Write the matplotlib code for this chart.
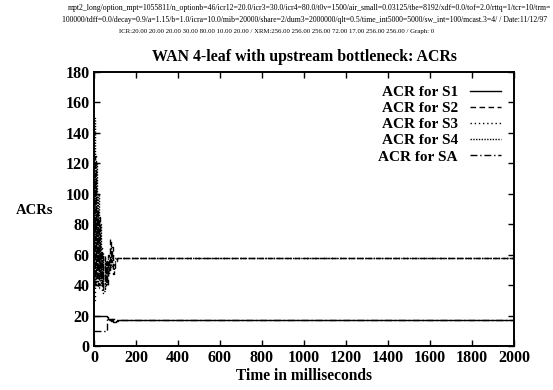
import matplotlib
matplotlib.use("Agg")
import matplotlib.pyplot as plt

# ACR traces (time in ms, rate values)
t_s1 = [0, 55, 60, 65, 70, 75, 80, 85, 90, 95, 100, 105, 112, 2000]
acr_s1 = [20, 20, 19, 18, 17.5, 18, 16.5, 17.5, 16, 15.5, 16, 16.5, 17, 17]

t_s2 = [0, 5, 10, 15, 20, 25, 30, 35, 40, 45, 50, 55, 60, 65, 70, 75, 80, 85,
        90, 95, 100, 105, 110, 120, 2000]
acr_s2 = [40, 125, 45, 90, 40, 85, 45, 62, 38, 60, 42, 55, 40, 60, 50, 70, 55,
          65, 47, 50, 55, 56, 58, 58, 58]

t_s3 = [0, 5, 10, 15, 20, 25, 30, 35, 40, 45, 50, 55, 60, 65, 70, 75, 80, 85,
        90, 95, 100, 110, 2000]
acr_s3 = [30, 110, 40, 85, 38, 80, 40, 65, 35, 58, 38, 56, 45, 58, 48, 65, 52,
          60, 50, 55, 57, 58, 58]

t_s4 = [0, 5, 10, 15, 20, 25, 30, 35, 40, 45, 50, 55, 60, 65, 70, 75, 80, 90,
        2000]
acr_s4 = [150, 40, 120, 50, 100, 45, 80, 40, 62, 36, 55, 40, 52, 48, 56, 52,
          58, 58, 58]

t_sa = [0, 56, 60, 70, 80, 100, 2000]
acr_sa = [10, 10, 18, 17, 17.5, 17, 17]

x_ticks = list(range(0, 2001, 200))
y_ticks = list(range(0, 181, 20))

header_lines = [
    "mpt2_long/option_mpt=1055811/n_optionb=46/icr12=20.0/icr3=30.0/icr4=80.0/t0v=1500/air_small=0.03125/tbe=8192/xdf=0.0/tof=2.0/rttq=1/tcr=10/trm=",
    "100000/tdff=0.0/decay=0.9/a=1.15/b=1.0/icra=10.0/mib=20000/share=2/dum3=2000000/qlt=0.5/time_int5000=5000/sw_int=100/mcast.3=4/ / Date:11/12/97",
    "ICR:20.00 20.00 20.00 30.00 80.00 10.00 20.00 / XRM:256.00 256.00 256.00 72.00 17.00 256.00 256.00 / Graph: 0",
]

plt.rcParams["font.family"] = ["Liberation Serif", "DejaVu Serif"]

W, H = 553, 390
fig = plt.figure(figsize=(W / 100, H / 100), dpi=100)
ax = fig.add_axes([94 / W, 1 - 346 / H, (514 - 94) / W, (346 - 72) / H])

lw = 1.0
ax.plot(t_s1, acr_s1, color="black", lw=lw, drawstyle="steps-post",
        linestyle="-", label="ACR for S1")
ax.plot(t_s2, acr_s2, color="black", lw=lw, drawstyle="steps-post",
        linestyle=(0, (4, 2.5)), label="ACR for S2")
ax.plot(t_s3, acr_s3, color="black", lw=lw, drawstyle="steps-post",
        linestyle=(0, (1, 2)), label="ACR for S3")
ax.plot(t_s4, acr_s4, color="black", lw=lw, drawstyle="steps-post",
        linestyle=(0, (1, 1)), label="ACR for S4")
ax.plot(t_sa, acr_sa, color="black", lw=lw, drawstyle="steps-post",
        linestyle=(0, (5, 2, 1, 2)), label="ACR for SA")

ax.set_xlim(0, 2000)
ax.set_ylim(0, 180)
ax.set_xticks(x_ticks)
ax.set_yticks(y_ticks)
for s in ax.spines.values():
    s.set_linewidth(1.4)
ax.tick_params(direction="in", length=4, width=1.0, top=True, right=True,
               labelsize=11.5, pad=3)
for lab in ax.get_xticklabels() + ax.get_yticklabels():
    lab.set_fontweight("bold")

ax.set_xlabel("Time in milliseconds", fontsize=11.2, fontweight="bold",
              labelpad=1)
fig.text(35 / W, 1 - 210 / H, "ACRs", fontsize=10.5, fontweight="bold",
         ha="center", va="center")
ax.set_title("WAN 4-leaf with upstream bottleneck: ACRs", fontsize=11.4,
             fontweight="bold", pad=8)

leg = ax.legend(loc="upper right", bbox_to_anchor=(0.99, 0.985), frameon=False,
                markerfirst=False, fontsize=11.0, handlelength=2.0,
                labelspacing=0.16, handletextpad=0.8, borderaxespad=0.2)
for txt in leg.get_texts():
    txt.set_fontweight("bold")
    txt.set_ha("right")

fig.text(68 / W, 1 - 8 / H, header_lines[0], fontsize=5.6, ha="left",
         va="center")
fig.text(62 / W, 1 - 20 / H, header_lines[1], fontsize=5.6, ha="left",
         va="center")
fig.text(277 / W, 1 - 32 / H, header_lines[2], fontsize=4.9, ha="center",
         va="center")

fig.savefig("out.png", dpi=100)
